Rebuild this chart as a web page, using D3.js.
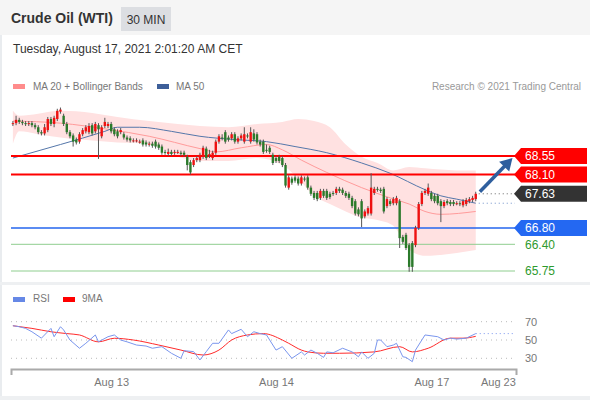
<!DOCTYPE html>
<meta charset="utf-8">
<style>
    body { margin: 0; background: #fff; }
    text { font-family: "Liberation Sans", Arial, sans-serif; }
</style>
<svg id="chart" width="590" height="400"></svg>
<script src="https://cdnjs.cloudflare.com/ajax/libs/d3/7.8.5/d3.min.js"></script>
<script>
    // 30 min candles, Crude Oil (WTI)
    var opens = [69.33,69.35,69.43,69.38,69.35,69.33,69.35,69.30,69.25,69.13,
        69.10,69.18,69.45,69.33,69.45,69.63,69.53,69.33,69.13,69.05,
        68.95,68.90,69.08,69.15,69.13,69.30,69.15,69.30,69.03,69.28,
        69.28,69.33,69.20,69.15,69.13,69.08,69.00,68.98,68.93,68.93,
        68.90,68.93,68.88,68.83,68.85,68.90,68.83,68.78,68.65,68.60,
        68.65,68.63,68.65,68.63,68.63,68.53,68.40,68.33,68.45,68.45,
        68.53,68.73,68.58,68.50,68.63,68.90,69.00,69.13,69.00,68.98,
        69.08,68.90,68.98,68.90,69.05,68.90,69.10,69.08,68.90,68.90,
        68.70,68.75,68.58,68.50,68.53,68.50,68.33,67.78,68.00,68.03,
        68.00,67.88,68.00,68.03,67.78,67.65,67.65,67.53,67.70,67.70,
        67.63,67.65,67.65,67.75,67.73,67.65,67.63,67.53,67.45,67.25,
        67.45,67.08,67.15,67.15,67.65,67.75,67.73,67.75,67.33,67.45,
        67.40,67.40,67.45,66.58,66.63,66.38,66.43,66.38,66.80,67.38,
        67.65,67.63,67.65,67.58,67.58,67.45,67.33,67.45,67.43,67.43,
        67.40,67.40,67.35,67.38,67.45,67.48,67.50];
    var closes = [69.35,69.43,69.38,69.35,69.33,69.35,69.30,69.25,69.13,69.10,
        69.25,69.45,69.33,69.48,69.65,69.68,69.33,69.13,69.03,68.90,
        68.88,69.08,69.18,69.25,69.28,69.10,69.33,69.20,69.25,69.38,
        69.33,69.15,69.08,69.03,69.18,69.00,68.95,68.93,68.93,68.93,
        68.90,68.83,68.83,68.85,68.80,68.78,68.75,68.63,68.63,68.65,
        68.60,68.65,68.65,68.60,68.58,68.33,68.15,68.45,68.50,68.58,
        68.75,68.50,68.60,68.63,68.90,69.03,68.98,68.90,68.95,69.08,
        68.90,68.98,69.05,69.08,69.03,69.13,68.95,68.88,68.83,68.65,
        68.68,68.65,68.38,68.43,68.43,68.33,67.83,68.03,67.90,67.95,
        67.88,68.03,67.98,67.78,67.63,67.53,67.50,67.70,67.58,67.53,
        67.55,67.63,67.75,67.70,67.65,67.58,67.53,67.33,67.15,67.13,
        67.03,67.20,67.28,67.78,67.75,67.73,67.70,67.20,67.50,67.38,
        67.50,67.53,66.55,66.46,66.31,65.85,65.85,66.80,67.38,67.65,
        67.70,67.78,67.50,67.45,67.40,67.33,67.43,67.40,67.38,67.38,
        67.40,67.38,67.45,67.48,67.50,67.53,67.63];
    var highs = [69.40,69.53,69.48,69.43,69.40,69.40,69.40,69.35,69.30,69.18,
        69.33,69.50,69.50,69.53,69.70,69.73,69.58,69.38,69.18,69.10,
        69.00,69.13,69.23,69.30,69.35,69.35,69.38,69.35,69.30,69.48,
        69.38,69.38,69.25,69.20,69.23,69.13,69.05,69.03,68.98,68.98,
        68.95,68.98,68.93,68.90,68.90,68.95,68.88,68.83,68.70,68.73,
        68.70,68.70,68.70,68.68,68.68,68.58,68.45,68.50,68.55,68.63,
        68.80,68.78,68.70,68.68,68.95,69.08,69.08,69.18,69.05,69.13,
        69.13,69.03,69.10,69.25,69.10,69.25,69.20,69.13,68.95,68.95,
        68.83,68.80,68.63,68.55,68.58,68.55,68.38,68.08,68.05,68.08,
        68.05,68.08,68.05,68.08,67.83,67.70,67.70,67.75,67.75,67.75,
        67.68,67.70,67.80,67.80,67.78,67.70,67.68,67.58,67.50,67.30,
        67.50,67.25,67.33,68.13,67.80,67.80,67.78,67.80,67.55,67.50,
        67.55,67.58,67.50,66.63,66.68,66.43,66.48,66.85,67.43,67.70,
        67.75,67.88,67.70,67.63,67.63,67.50,67.48,67.50,67.48,67.48,
        67.45,67.45,67.50,67.53,67.55,67.58,67.68];
    var lows = [69.28,69.30,69.33,69.30,69.28,69.28,69.25,69.20,69.08,69.05,
        69.05,69.13,69.28,69.25,69.40,69.58,69.28,69.08,68.98,68.78,
        68.83,68.85,69.03,69.10,69.08,69.05,69.10,68.48,68.98,69.23,
        69.23,69.10,69.03,68.98,69.08,68.95,68.90,68.88,68.88,68.88,
        68.85,68.78,68.78,68.78,68.75,68.73,68.70,68.58,68.58,68.55,
        68.55,68.58,68.60,68.55,68.53,68.20,68.10,68.28,68.40,68.40,
        68.48,68.45,68.50,68.45,68.58,68.85,68.93,68.85,68.90,68.93,
        68.85,68.85,68.93,68.85,68.98,68.85,68.90,68.83,68.78,68.60,
        68.63,68.60,68.33,68.38,68.38,68.28,67.78,67.73,67.85,67.90,
        67.83,67.83,67.93,67.73,67.58,67.48,67.45,67.48,67.53,67.48,
        67.50,67.58,67.60,67.65,67.60,67.53,67.48,67.28,67.10,67.08,
        66.82,67.03,67.10,67.10,67.60,67.68,67.65,67.15,67.28,67.33,
        67.35,67.35,66.31,66.41,66.26,65.73,65.73,66.33,66.75,67.33,
        67.60,67.58,67.45,67.40,67.35,66.94,67.28,67.35,67.33,67.33,
        67.35,67.33,67.30,67.33,67.40,67.43,67.45];

    // indicators read at some candle positions
    var ma50At = [0, 15, 29, 33, 40, 50, 59, 70, 80, 89, 99, 110, 119, 130, 135, 140, 146];
    var ma50 = [68.50, 68.83, 69.15, 69.25, 69.25, 69.15, 69.03, 68.95, 68.90, 68.78, 68.63, 68.38, 68.13, 67.73, 67.58, 67.50, 67.40];
    var ma20At = [0, 15, 30, 43, 59, 64, 72, 80, 85, 91, 99, 110, 119, 125, 130, 135, 146];
    var ma20 = [69.40, 69.35, 69.20, 69.03, 68.73, 68.65, 68.75, 68.83, 68.70, 68.45, 68.15, 67.78, 67.53, 67.38, 67.20, 67.13, 67.20];
    var bandAt = [0, 2, 8, 15, 25, 33, 43, 52, 59, 68, 77, 85, 90, 95, 100, 105, 110, 115, 120, 125, 130, 140, 146];
    var bandUpper = [69.65, 69.53, 69.58, 69.65, 69.60, 69.50, 69.40, 69.33, 69.28, 69.25, 69.33, 69.38, 69.45, 69.40, 69.25, 68.83, 68.53, 68.38, 68.20, 68.28, 68.25, 68.20, 68.20];
    var bandLower = [68.85, 69.15, 69.08, 69.00, 68.93, 68.88, 68.85, 68.53, 68.43, 68.43, 68.50, 68.33, 68.00, 67.58, 67.38, 67.20, 67.05, 66.99, 66.85, 66.26, 66.12, 66.19, 66.26];

    var rsiAt = [0, 2, 4, 6, 9, 12, 13, 15, 16, 18, 21, 23, 26, 27, 30, 32, 34, 36, 39, 42, 44, 47, 50, 53, 54, 57, 59, 61, 63, 65,
        68, 69, 72, 74, 76, 78, 80, 83, 85, 88, 91, 92, 94, 96, 98, 99, 101, 104, 107, 109, 110, 112, 114, 115, 116, 118, 120, 121,
        123, 124, 126, 127, 130, 134, 136, 138, 140, 143, 146];
    var rsi = [65.6, 64.5, 62.7, 59, 52, 62.7, 53.6, 64.5, 61, 50, 41, 46.4, 55.5, 48, 53.6, 55.5, 50, 48, 44.5, 43.4, 41, 42.7, 35.5, 30, 38.3, 37.3, 28.2, 37.3, 46.4, 46.4,
        61, 57, 61.7, 53.6, 59, 57, 55.5, 39, 42.7, 30, 37, 33.6, 39, 35.5, 31, 37, 36, 41, 37, 31.7, 37, 30, 35.5, 50, 50, 42.7, 44.5, 46.4,
        31.7, 31, 26.3, 39, 55.5, 53.6, 50, 52, 51, 52, 57];
    var rsiMaAt = [0, 6, 12, 17, 21, 27, 32, 38, 46, 53, 60, 65, 69, 74, 79, 85, 87, 91, 93, 98, 103, 114, 122, 126, 131, 138, 142, 146];
    var rsiMa = [65.6, 62.7, 59, 57, 55.5, 48, 51.9, 50, 44.5, 39, 33.6, 39, 50, 55.5, 57, 50, 46.4, 39, 37, 35.5, 35.5, 37, 42.7, 37, 41, 52, 52, 54];

    var tickAt = [31, 83, 132, 153];
    var tickLabels = ["Aug 13", "Aug 14", "Aug 17", "Aug 23"];

    var levels = [
        { value: 68.55, kind: "res" },
        { value: 68.10, kind: "res" },
        { value: 67.63, kind: "last" },
        { value: 66.80, kind: "piv" },
        { value: 66.40, kind: "sup" },
        { value: 65.75, kind: "sup" }
    ];
    var rsiLevels = [70, 50, 30];
    var arrowFrom = [147.3, 67.68], arrowTo = [157.6, 68.50];

    var svg = d3.select("#chart");
    var x = d3.scaleLinear().domain([-0.6, 158.7]).range([11, 516]),
        y = d3.scaleLinear().domain([65.75, 68.55]).range([271, 156]),
        yR = d3.scaleLinear().domain([30, 70]).range([358.3, 321.7]);

    var candles = closes.map(function (c, i) {
        return { i: i, o: opens[i], h: highs[i], l: lows[i], c: c };
    });
    var last = candles[candles.length - 1];

    // frame
    svg.append("rect").attr("width", 590).attr("height", 400).attr("fill", "#fff");
    svg.append("rect").attr("width", 590).attr("height", 35).attr("fill", "#f5f5f5");
    svg.append("rect").attr("x", 0).attr("y", 35).attr("width", 2).attr("height", 365).attr("fill", "#e9ecef");
    svg.append("rect").attr("x", 0).attr("y", 282).attr("width", 590).attr("height", 3).attr("fill", "#eef0f2");
    svg.append("rect").attr("x", 0).attr("y", 396).attr("width", 590).attr("height", 4).attr("fill", "#eef0f2");

    // header
    svg.append("text").attr("x", 11).attr("y", 23).attr("font-size", 14).attr("font-weight", "bold")
        .attr("fill", "#333").text("Crude Oil (WTI)");
    svg.append("rect").attr("x", 121).attr("y", 7).attr("width", 50).attr("height", 24).attr("fill", "#dcdee2");
    svg.append("text").attr("x", 146).attr("y", 24).attr("text-anchor", "middle").attr("font-size", 12)
        .attr("fill", "#333").text("30 MIN");
    svg.append("text").attr("x", 13).attr("y", 53).attr("font-size", 12).attr("fill", "#333")
        .text("Tuesday, August 17, 2021 2:01:20 AM CET");

    // legend
    var leg = svg.append("g").attr("font-size", 10).attr("fill", "#777");
    leg.append("rect").attr("x", 13).attr("y", 84).attr("width", 12).attr("height", 5).attr("fill", "#ff8c8c");
    leg.append("text").attr("x", 33).attr("y", 90).text("MA 20 + Bollinger Bands");
    leg.append("rect").attr("x", 157).attr("y", 84).attr("width", 12).attr("height", 5).attr("fill", "#3d5f99");
    leg.append("text").attr("x", 176).attr("y", 90).text("MA 50");
    leg.append("text").attr("x", 581).attr("y", 90).attr("text-anchor", "end").attr("fill", "#999")
        .text("Research \u00a9 2021 Trading Central");

    // bollinger band + moving averages
    var band = bandAt.map(function (k, j) { return { i: k, u: bandUpper[j], l: bandLower[j] }; });
    svg.append("path").datum(band)
        .attr("fill", "#ffe1e1")
        .attr("d", d3.area().curve(d3.curveMonotoneX)
            .x(function (d) { return x(d.i); })
            .y0(function (d) { return y(d.l); })
            .y1(function (d) { return y(d.u); }));

    var line = d3.line().curve(d3.curveMonotoneX)
        .x(function (d) { return x(d[0]); })
        .y(function (d) { return y(d[1]); });
    svg.append("path").datum(ma20At.map(function (k, j) { return [k, ma20[j]]; }))
        .attr("fill", "none").attr("stroke", "#ff9b9b").attr("stroke-width", 1).attr("d", line);
    svg.append("path").datum(ma50At.map(function (k, j) { return [k, ma50[j]]; }))
        .attr("fill", "none").attr("stroke", "#5577aa").attr("stroke-width", 1).attr("d", line);

    // dotted projections
    svg.append("line").attr("x1", x(last.i) + 3).attr("x2", 515)
        .attr("y1", y(last.c)).attr("y2", y(last.c))
        .attr("stroke", "#666").attr("stroke-dasharray", "1,3");
    svg.append("line").attr("x1", x(last.i) + 3).attr("x2", 515)
        .attr("y1", y(ma50[ma50.length - 1])).attr("y2", y(ma50[ma50.length - 1]))
        .attr("stroke", "#6d8fc9").attr("stroke-dasharray", "1,3");

    // level lines
    var lvColor = { res: "#ff0000", last: "#333333", piv: "#2466ee", sup: "#8fce8f" };
    levels.filter(function (d) { return d.kind != "last"; }).forEach(function (d) {
        svg.append("line").attr("x1", 11).attr("x2", 515)
            .attr("y1", y(d.value)).attr("y2", y(d.value))
            .attr("stroke", lvColor[d.kind])
            .attr("stroke-width", d.kind == "res" ? 2 : (d.kind == "piv" ? 1.5 : 1));
    });

    // candles
    var cg = svg.append("g");
    cg.selectAll(".wick").data(candles).enter().append("line")
        .attr("x1", function (d) { return x(d.i); }).attr("x2", function (d) { return x(d.i); })
        .attr("y1", function (d) { return y(d.h); }).attr("y2", function (d) { return y(d.l); })
        .attr("stroke", "#555").attr("stroke-width", 1);
    cg.selectAll(".body").data(candles).enter().append("rect")
        .attr("x", function (d) { return x(d.i) - 1.2; })
        .attr("width", 2.4)
        .attr("y", function (d) { return y(Math.max(d.o, d.c)); })
        .attr("height", function (d) { return Math.max(1, Math.abs(y(d.o) - y(d.c))); })
        .attr("fill", function (d) { return d.c >= d.o ? "#ee1111" : "#2b7a2b"; });

    // arrow
    var ax1 = x(arrowFrom[0]), ay1 = y(arrowFrom[1]), ax2 = x(arrowTo[0]), ay2 = y(arrowTo[1]);
    var ang = Math.atan2(ay2 - ay1, ax2 - ax1);
    svg.append("line").attr("x1", ax1).attr("y1", ay1)
        .attr("x2", ax2 - 8 * Math.cos(ang)).attr("y2", ay2 - 8 * Math.sin(ang))
        .attr("stroke", "#2f5f9e").attr("stroke-width", 3.5);
    svg.append("path")
        .attr("d", "M0,0L-12,-7L-12,7Z")
        .attr("transform", "translate(" + ax2 + "," + ay2 + ") rotate(" + (ang * 180 / Math.PI) + ")")
        .attr("fill", "#2f5f9e");

    // level labels
    var boxColor = { res: "#ff0000", last: "#333333", piv: "#2468f2" };
    levels.forEach(function (d) {
        var yy = y(d.value);
        if (d.kind != "sup") {
            svg.append("path")
                .attr("d", "M514," + yy + "L521," + (yy - 8) + "H587V" + (yy + 8) + "H521Z")
                .attr("fill", boxColor[d.kind]);
        }
        svg.append("text").attr("x", 525).attr("y", yy).attr("dy", "0.36em")
            .attr("font-size", 12)
            .attr("fill", d.kind == "sup" ? "#2e9a2e" : "#fff")
            .text(d.value.toFixed(2));
    });

    // RSI panel
    var rl = svg.append("g").attr("font-size", 10).attr("fill", "#777");
    rl.append("rect").attr("x", 13).attr("y", 297).attr("width", 12).attr("height", 5).attr("fill", "#6688e6");
    rl.append("text").attr("x", 33).attr("y", 302).text("RSI");
    rl.append("rect").attr("x", 63).attr("y", 297).attr("width", 12).attr("height", 5).attr("fill", "#ff0000");
    rl.append("text").attr("x", 82).attr("y", 302).text("9MA");

    rsiLevels.forEach(function (v) {
        svg.append("line").attr("x1", 11).attr("x2", 515).attr("y1", yR(v)).attr("y2", yR(v))
            .attr("stroke", "#bbb").attr("stroke-dasharray", "1,4");
        svg.append("text").attr("x", 525).attr("y", yR(v)).attr("dy", "0.36em")
            .attr("font-size", 11).attr("fill", "#777").text(v);
    });

    var rline = d3.line()
        .x(function (d) { return x(d[0]); })
        .y(function (d) { return yR(d[1]); });
    svg.append("path").datum(rsiMaAt.map(function (k, j) { return [k, rsiMa[j]]; }))
        .attr("fill", "none").attr("stroke", "#ff2a2a").attr("stroke-width", 1)
        .attr("d", rline.curve(d3.curveMonotoneX));
    svg.append("path").datum(rsiAt.map(function (k, j) { return [k, rsi[j]]; }))
        .attr("fill", "none").attr("stroke", "#7a96ee").attr("stroke-width", 1)
        .attr("d", rline.curve(d3.curveLinear));
    svg.append("line").attr("x1", x(rsiAt[rsiAt.length - 1])).attr("x2", 515)
        .attr("y1", yR(rsi[rsi.length - 1])).attr("y2", yR(rsi[rsi.length - 1]))
        .attr("stroke", "#7a96ee").attr("stroke-dasharray", "1,3");

    // time axis
    var xAxis = svg.append("g").attr("transform", "translate(0,369)")
        .call(d3.axisBottom(x).tickValues(tickAt)
            .tickFormat(function (d, i) { return tickLabels[i]; })
            .tickSizeInner(0).tickSizeOuter(6).tickPadding(9));
    xAxis.select(".domain").attr("stroke", "#aaa").attr("stroke-width", 2);
    xAxis.selectAll("text").attr("font-size", 11).attr("fill", "#777")
        .attr("font-family", "'Liberation Sans', Arial, sans-serif");
</script>
